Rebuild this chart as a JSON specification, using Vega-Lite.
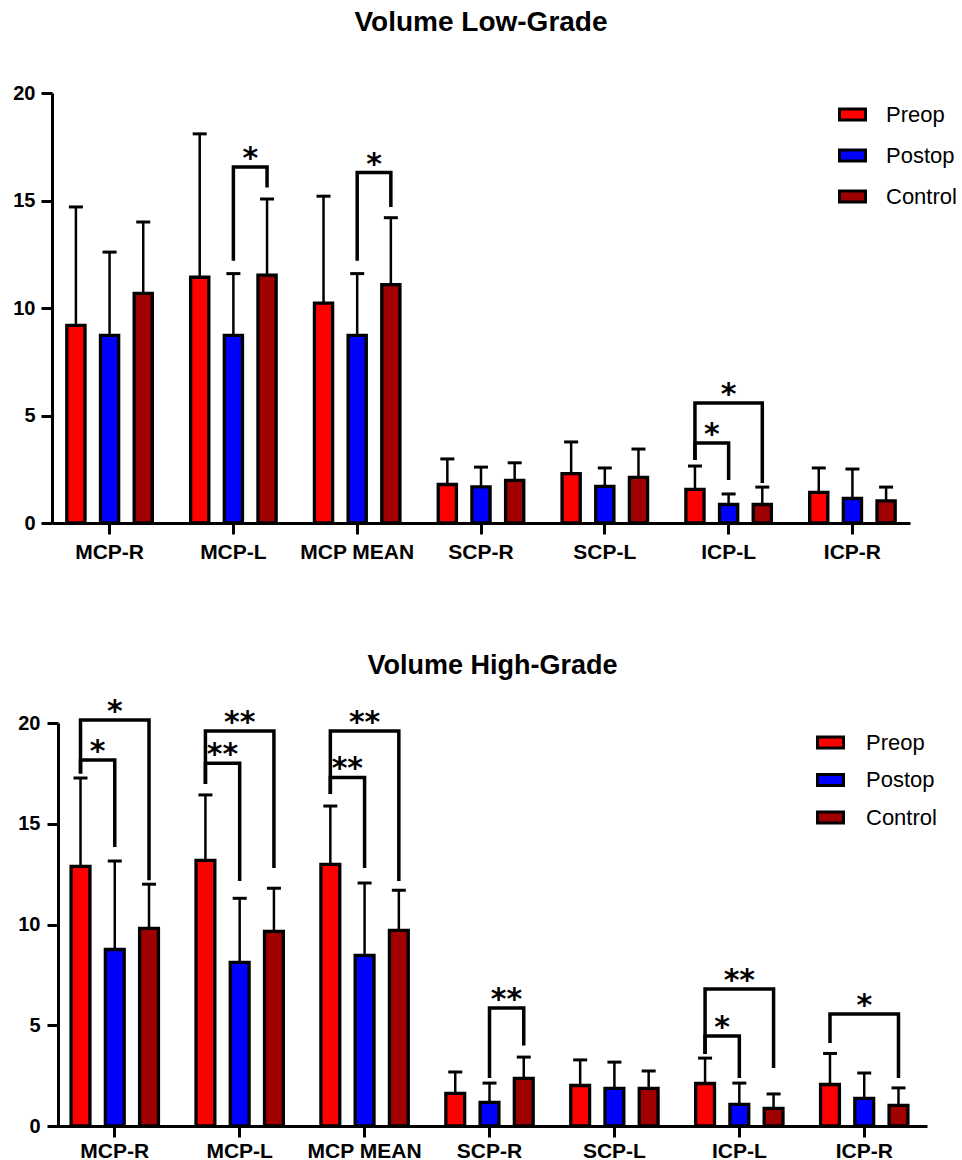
{
  "$schema": "https://vega.github.io/schema/vega-lite/v6.json",
  "padding": {"left": 5, "top": 9, "right": 0, "bottom": 0},
  "spacing": 89,
  "config": {
    "view": {"stroke": null},
    "axis": {"domainColor": "black", "tickColor": "black", "labelColor": "black", "labelFont": "Liberation Sans", "labelFontWeight": "bold", "grid": false, "domainWidth": 3, "tickWidth": 3, "tickSize": 11}
  },
  "datasets": {
    "lowBars": [
      {"region": "MCP-R", "group": "Preop", "mean": 9.19, "upper": 14.7},
      {"region": "MCP-R", "group": "Postop", "mean": 8.73, "upper": 12.6},
      {"region": "MCP-R", "group": "Control", "mean": 10.68, "upper": 14.0},
      {"region": "MCP-L", "group": "Preop", "mean": 11.43, "upper": 18.1},
      {"region": "MCP-L", "group": "Postop", "mean": 8.73, "upper": 11.6},
      {"region": "MCP-L", "group": "Control", "mean": 11.53, "upper": 15.07},
      {"region": "MCP MEAN", "group": "Preop", "mean": 10.23, "upper": 15.2},
      {"region": "MCP MEAN", "group": "Postop", "mean": 8.73, "upper": 11.6},
      {"region": "MCP MEAN", "group": "Control", "mean": 11.09, "upper": 14.2},
      {"region": "SCP-R", "group": "Preop", "mean": 1.79, "upper": 2.98},
      {"region": "SCP-R", "group": "Postop", "mean": 1.68, "upper": 2.6},
      {"region": "SCP-R", "group": "Control", "mean": 1.98, "upper": 2.8},
      {"region": "SCP-L", "group": "Preop", "mean": 2.3, "upper": 3.77},
      {"region": "SCP-L", "group": "Postop", "mean": 1.7, "upper": 2.56},
      {"region": "SCP-L", "group": "Control", "mean": 2.12, "upper": 3.44},
      {"region": "ICP-L", "group": "Preop", "mean": 1.56, "upper": 2.65},
      {"region": "ICP-L", "group": "Postop", "mean": 0.86, "upper": 1.35},
      {"region": "ICP-L", "group": "Control", "mean": 0.86, "upper": 1.67},
      {"region": "ICP-R", "group": "Preop", "mean": 1.42, "upper": 2.56},
      {"region": "ICP-R", "group": "Postop", "mean": 1.14, "upper": 2.51},
      {"region": "ICP-R", "group": "Control", "mean": 1.03, "upper": 1.67}
    ],
    "lowBrackets": [
      {"bid": "a", "region": "MCP-L", "group": "Postop", "y": 12.2, "seq": 0},
      {"bid": "a", "region": "MCP-L", "group": "Postop", "y": 16.56, "seq": 1},
      {"bid": "a", "region": "MCP-L", "group": "Control", "y": 16.56, "seq": 2},
      {"bid": "a", "region": "MCP-L", "group": "Control", "y": 15.6, "seq": 3},
      {"bid": "b", "region": "MCP MEAN", "group": "Postop", "y": 12.2, "seq": 0},
      {"bid": "b", "region": "MCP MEAN", "group": "Postop", "y": 16.3, "seq": 1},
      {"bid": "b", "region": "MCP MEAN", "group": "Control", "y": 16.3, "seq": 2},
      {"bid": "b", "region": "MCP MEAN", "group": "Control", "y": 14.7, "seq": 3},
      {"bid": "c", "region": "ICP-L", "group": "Preop", "y": 2.93, "seq": 0},
      {"bid": "c", "region": "ICP-L", "group": "Preop", "y": 5.58, "seq": 1},
      {"bid": "c", "region": "ICP-L", "group": "Control", "y": 5.58, "seq": 2},
      {"bid": "c", "region": "ICP-L", "group": "Control", "y": 1.86, "seq": 3},
      {"bid": "d", "region": "ICP-L", "group": "Preop", "y": 2.93, "seq": 0},
      {"bid": "d", "region": "ICP-L", "group": "Preop", "y": 3.72, "seq": 1},
      {"bid": "d", "region": "ICP-L", "group": "Postop", "y": 3.72, "seq": 2},
      {"bid": "d", "region": "ICP-L", "group": "Postop", "y": 2.0, "seq": 3}
    ],
    "lowStars": [
      {"region": "MCP-L", "group": "Postop", "span": "adj", "label": "*", "y": 16.56},
      {"region": "MCP MEAN", "group": "Postop", "span": "adj", "label": "*", "y": 16.3},
      {"region": "ICP-L", "group": "Postop", "span": "wide", "label": "*", "y": 5.58},
      {"region": "ICP-L", "group": "Preop", "span": "adj", "label": "*", "y": 3.72}
    ],
    "highBars": [
      {"region": "MCP-R", "group": "Preop", "mean": 12.88, "upper": 17.27},
      {"region": "MCP-R", "group": "Postop", "mean": 8.76, "upper": 13.15},
      {"region": "MCP-R", "group": "Control", "mean": 9.81, "upper": 12.0},
      {"region": "MCP-L", "group": "Preop", "mean": 13.18, "upper": 16.43},
      {"region": "MCP-L", "group": "Postop", "mean": 8.12, "upper": 11.3},
      {"region": "MCP-L", "group": "Control", "mean": 9.66, "upper": 11.8},
      {"region": "MCP MEAN", "group": "Preop", "mean": 12.98, "upper": 15.88},
      {"region": "MCP MEAN", "group": "Postop", "mean": 8.47, "upper": 12.06},
      {"region": "MCP MEAN", "group": "Control", "mean": 9.71, "upper": 11.7},
      {"region": "SCP-R", "group": "Preop", "mean": 1.62, "upper": 2.68},
      {"region": "SCP-R", "group": "Postop", "mean": 1.17, "upper": 2.13},
      {"region": "SCP-R", "group": "Control", "mean": 2.36, "upper": 3.42},
      {"region": "SCP-L", "group": "Preop", "mean": 2.01, "upper": 3.28},
      {"region": "SCP-L", "group": "Postop", "mean": 1.87, "upper": 3.17},
      {"region": "SCP-L", "group": "Control", "mean": 1.87, "upper": 2.73},
      {"region": "ICP-L", "group": "Preop", "mean": 2.11, "upper": 3.37},
      {"region": "ICP-L", "group": "Postop", "mean": 1.07, "upper": 2.13},
      {"region": "ICP-L", "group": "Control", "mean": 0.87, "upper": 1.59},
      {"region": "ICP-R", "group": "Preop", "mean": 2.06, "upper": 3.6},
      {"region": "ICP-R", "group": "Postop", "mean": 1.37, "upper": 2.63},
      {"region": "ICP-R", "group": "Control", "mean": 1.02, "upper": 1.89}
    ],
    "highBrackets": [
      {"bid": "a", "region": "MCP-R", "group": "Preop", "y": 17.5, "seq": 0},
      {"bid": "a", "region": "MCP-R", "group": "Preop", "y": 20.15, "seq": 1},
      {"bid": "a", "region": "MCP-R", "group": "Control", "y": 20.15, "seq": 2},
      {"bid": "a", "region": "MCP-R", "group": "Control", "y": 12.2, "seq": 3},
      {"bid": "b", "region": "MCP-R", "group": "Preop", "y": 17.5, "seq": 0},
      {"bid": "b", "region": "MCP-R", "group": "Preop", "y": 18.16, "seq": 1},
      {"bid": "b", "region": "MCP-R", "group": "Postop", "y": 18.16, "seq": 2},
      {"bid": "b", "region": "MCP-R", "group": "Postop", "y": 13.85, "seq": 3},
      {"bid": "c", "region": "MCP-L", "group": "Preop", "y": 16.97, "seq": 0},
      {"bid": "c", "region": "MCP-L", "group": "Preop", "y": 19.6, "seq": 1},
      {"bid": "c", "region": "MCP-L", "group": "Control", "y": 19.6, "seq": 2},
      {"bid": "c", "region": "MCP-L", "group": "Control", "y": 12.8, "seq": 3},
      {"bid": "d", "region": "MCP-L", "group": "Preop", "y": 16.97, "seq": 0},
      {"bid": "d", "region": "MCP-L", "group": "Preop", "y": 18.0, "seq": 1},
      {"bid": "d", "region": "MCP-L", "group": "Postop", "y": 18.0, "seq": 2},
      {"bid": "d", "region": "MCP-L", "group": "Postop", "y": 12.16, "seq": 3},
      {"bid": "e", "region": "MCP MEAN", "group": "Preop", "y": 16.48, "seq": 0},
      {"bid": "e", "region": "MCP MEAN", "group": "Preop", "y": 19.6, "seq": 1},
      {"bid": "e", "region": "MCP MEAN", "group": "Control", "y": 19.6, "seq": 2},
      {"bid": "e", "region": "MCP MEAN", "group": "Control", "y": 12.16, "seq": 3},
      {"bid": "f", "region": "MCP MEAN", "group": "Preop", "y": 16.48, "seq": 0},
      {"bid": "f", "region": "MCP MEAN", "group": "Preop", "y": 17.3, "seq": 1},
      {"bid": "f", "region": "MCP MEAN", "group": "Postop", "y": 17.3, "seq": 2},
      {"bid": "f", "region": "MCP MEAN", "group": "Postop", "y": 12.8, "seq": 3},
      {"bid": "g", "region": "SCP-R", "group": "Postop", "y": 2.38, "seq": 0},
      {"bid": "g", "region": "SCP-R", "group": "Postop", "y": 5.86, "seq": 1},
      {"bid": "g", "region": "SCP-R", "group": "Control", "y": 5.86, "seq": 2},
      {"bid": "g", "region": "SCP-R", "group": "Control", "y": 4.0, "seq": 3},
      {"bid": "h", "region": "ICP-L", "group": "Preop", "y": 3.57, "seq": 0},
      {"bid": "h", "region": "ICP-L", "group": "Preop", "y": 6.8, "seq": 1},
      {"bid": "h", "region": "ICP-L", "group": "Control", "y": 6.8, "seq": 2},
      {"bid": "h", "region": "ICP-L", "group": "Control", "y": 2.88, "seq": 3},
      {"bid": "i", "region": "ICP-L", "group": "Preop", "y": 3.57, "seq": 0},
      {"bid": "i", "region": "ICP-L", "group": "Preop", "y": 4.47, "seq": 1},
      {"bid": "i", "region": "ICP-L", "group": "Postop", "y": 4.47, "seq": 2},
      {"bid": "i", "region": "ICP-L", "group": "Postop", "y": 2.38, "seq": 3},
      {"bid": "j", "region": "ICP-R", "group": "Preop", "y": 4.12, "seq": 0},
      {"bid": "j", "region": "ICP-R", "group": "Preop", "y": 5.56, "seq": 1},
      {"bid": "j", "region": "ICP-R", "group": "Control", "y": 5.56, "seq": 2},
      {"bid": "j", "region": "ICP-R", "group": "Control", "y": 2.38, "seq": 3}
    ],
    "highStars": [
      {"region": "MCP-R", "group": "Postop", "span": "wide", "label": "*", "y": 20.15},
      {"region": "MCP-R", "group": "Preop", "span": "adj", "label": "*", "y": 18.16},
      {"region": "MCP-L", "group": "Postop", "span": "wide", "label": "**", "y": 19.6},
      {"region": "MCP-L", "group": "Preop", "span": "adj", "label": "**", "y": 18.0},
      {"region": "MCP MEAN", "group": "Postop", "span": "wide", "label": "**", "y": 19.6},
      {"region": "MCP MEAN", "group": "Preop", "span": "adj", "label": "**", "y": 17.3},
      {"region": "SCP-R", "group": "Postop", "span": "adj", "label": "**", "y": 5.86},
      {"region": "ICP-L", "group": "Postop", "span": "wide", "label": "**", "y": 6.8},
      {"region": "ICP-L", "group": "Preop", "span": "adj", "label": "*", "y": 4.47},
      {"region": "ICP-R", "group": "Postop", "span": "wide", "label": "*", "y": 5.56}
    ]
  },
  "resolve": {
    "scale": {"x": "independent", "y": "independent", "xOffset": "independent", "color": "independent"},
    "legend": {"color": "independent"}
  },
  "vconcat": [
    {
      "title": {"text": "Volume Low-Grade", "font": "Liberation Sans", "fontSize": 28, "fontWeight": "bold", "color": "black", "anchor": "middle", "frame": "group", "baseline": "alphabetic", "offset": 24},
      "width": 858,
      "height": 430,
      "layer": [
        {
          "data": {"name": "lowBars"},
          "mark": {"type": "bar", "stroke": "black", "strokeWidth": 3.3},
          "encoding": {
            "x": {"field": "region", "type": "nominal", "title": null,
              "scale": {"domain": ["MCP-R", "MCP-L", "MCP MEAN", "SCP-R", "SCP-L", "ICP-L", "ICP-R"], "paddingInner": 0.07, "paddingOuter": 0},
              "axis": {"labelAngle": 0, "labelFontSize": 21, "labelPadding": 7}},
            "xOffset": {"field": "group", "type": "nominal", "scale": {"domain": ["Preop", "Postop", "Control"], "paddingInner": 0.46, "paddingOuter": 0.44}},
            "y": {"field": "mean", "type": "quantitative", "title": null,
              "scale": {"domain": [0, 20], "nice": false},
              "axis": {"values": [0, 5, 10, 15, 20], "labelFontSize": 20, "labelPadding": 6, "minExtent": 47}},
            "color": {"field": "group", "type": "nominal",
              "scale": {"domain": ["Preop", "Postop", "Control"], "range": ["#ff0000", "#0000ff", "#a00000"]},
              "legend": {"title": null, "orient": "none", "legendX": 789, "legendY": 10, "padding": 0,
                "symbolType": "M-1.3,-0.55H1.3V0.55H-1.3Z", "symbolSize": 400, "symbolStrokeColor": "black", "symbolStrokeWidth": 3, "symbolOpacity": 1,
                "labelFont": "Liberation Sans", "labelFontSize": 22, "labelColor": "black", "labelOffset": 22, "rowPadding": 18}}
          }
        },
        {
          "data": {"name": "lowBars"},
          "mark": {"type": "rule", "color": "black", "strokeWidth": 2.5},
          "encoding": {
            "x": {"field": "region", "type": "nominal"},
            "xOffset": {"field": "group", "type": "nominal"},
            "y": {"field": "mean", "type": "quantitative"},
            "y2": {"field": "upper"}
          }
        },
        {
          "data": {"name": "lowBars"},
          "mark": {"type": "tick", "color": "black", "size": 14, "thickness": 3, "opacity": 1},
          "encoding": {
            "x": {"field": "region", "type": "nominal"},
            "xOffset": {"field": "group", "type": "nominal"},
            "y": {"field": "upper", "type": "quantitative"}
          }
        },
        {
          "data": {"name": "lowBrackets"},
          "mark": {"type": "line", "color": "black", "strokeWidth": 3.5, "strokeJoin": "miter", "strokeCap": "butt"},
          "encoding": {
            "x": {"field": "region", "type": "nominal"},
            "xOffset": {"field": "group", "type": "nominal"},
            "y": {"field": "y", "type": "quantitative"},
            "detail": {"field": "bid"},
            "order": {"field": "seq", "type": "quantitative"}
          }
        },
        {
          "data": {"name": "lowStars"},
          "transform": [{"filter": "datum.span === 'wide'"}],
          "mark": {"type": "text", "font": "DejaVu Sans", "fontWeight": "bold", "fontSize": 30, "baseline": "alphabetic", "align": "center", "dy": 1, "color": "black"},
          "encoding": {
            "x": {"field": "region", "type": "nominal"},
            "y": {"field": "y", "type": "quantitative"},
            "text": {"field": "label"}
          }
        },
        {
          "data": {"name": "lowStars"},
          "transform": [{"filter": "datum.span === 'adj'"}],
          "mark": {"type": "text", "font": "DejaVu Sans", "fontWeight": "bold", "fontSize": 30, "baseline": "alphabetic", "align": "center", "dy": 1, "dx": 17, "color": "black"},
          "encoding": {
            "x": {"field": "region", "type": "nominal"},
            "xOffset": {"field": "group", "type": "nominal"},
            "y": {"field": "y", "type": "quantitative"},
            "text": {"field": "label"}
          }
        }
      ]
    },
    {
      "title": {"text": "Volume High-Grade", "font": "Liberation Sans", "fontSize": 27, "fontWeight": "bold", "color": "black", "anchor": "middle", "frame": "group", "baseline": "alphabetic", "offset": -4, "dx": 3},
      "width": 875,
      "height": 403,
      "layer": [
        {
          "data": {"name": "highBars"},
          "mark": {"type": "bar", "stroke": "black", "strokeWidth": 3.3},
          "encoding": {
            "x": {"field": "region", "type": "nominal", "title": null,
              "scale": {"domain": ["MCP-R", "MCP-L", "MCP MEAN", "SCP-R", "SCP-L", "ICP-L", "ICP-R"], "paddingInner": 0.065, "paddingOuter": 0.035},
              "axis": {"labelAngle": 0, "labelFontSize": 21, "labelPadding": 3}},
            "xOffset": {"field": "group", "type": "nominal", "scale": {"domain": ["Preop", "Postop", "Control"], "paddingInner": 0.45, "paddingOuter": 0.43}},
            "y": {"field": "mean", "type": "quantitative", "title": null,
              "scale": {"domain": [0, 20], "nice": false},
              "axis": {"values": [0, 5, 10, 15, 20], "labelFontSize": 20, "labelPadding": 7, "offset": -6, "minExtent": 47}},
            "color": {"field": "group", "type": "nominal",
              "scale": {"domain": ["Preop", "Postop", "Control"], "range": ["#ff0000", "#0000ff", "#a00000"]},
              "legend": {"title": null, "orient": "none", "legendX": 767, "legendY": 8, "padding": 0,
                "symbolType": "M-1.3,-0.55H1.3V0.55H-1.3Z", "symbolSize": 400, "symbolStrokeColor": "black", "symbolStrokeWidth": 3, "symbolOpacity": 1,
                "labelFont": "Liberation Sans", "labelFontSize": 22, "labelColor": "black", "labelOffset": 24, "rowPadding": 14.5}}
          }
        },
        {
          "data": {"name": "highBars"},
          "mark": {"type": "rule", "color": "black", "strokeWidth": 2.5},
          "encoding": {
            "x": {"field": "region", "type": "nominal"},
            "xOffset": {"field": "group", "type": "nominal"},
            "y": {"field": "mean", "type": "quantitative"},
            "y2": {"field": "upper"}
          }
        },
        {
          "data": {"name": "highBars"},
          "mark": {"type": "tick", "color": "black", "size": 14, "thickness": 3, "opacity": 1},
          "encoding": {
            "x": {"field": "region", "type": "nominal"},
            "xOffset": {"field": "group", "type": "nominal"},
            "y": {"field": "upper", "type": "quantitative"}
          }
        },
        {
          "data": {"name": "highBrackets"},
          "mark": {"type": "line", "color": "black", "strokeWidth": 3.5, "strokeJoin": "miter", "strokeCap": "butt"},
          "encoding": {
            "x": {"field": "region", "type": "nominal"},
            "xOffset": {"field": "group", "type": "nominal"},
            "y": {"field": "y", "type": "quantitative"},
            "detail": {"field": "bid"},
            "order": {"field": "seq", "type": "quantitative"}
          }
        },
        {
          "data": {"name": "highStars"},
          "transform": [{"filter": "datum.span === 'wide'"}],
          "mark": {"type": "text", "font": "DejaVu Sans", "fontWeight": "bold", "fontSize": 30, "baseline": "alphabetic", "align": "center", "dy": 1, "color": "black"},
          "encoding": {
            "x": {"field": "region", "type": "nominal"},
            "y": {"field": "y", "type": "quantitative"},
            "text": {"field": "label"}
          }
        },
        {
          "data": {"name": "highStars"},
          "transform": [{"filter": "datum.span === 'adj'"}],
          "mark": {"type": "text", "font": "DejaVu Sans", "fontWeight": "bold", "fontSize": 30, "baseline": "alphabetic", "align": "center", "dy": 1, "dx": 17, "color": "black"},
          "encoding": {
            "x": {"field": "region", "type": "nominal"},
            "xOffset": {"field": "group", "type": "nominal"},
            "y": {"field": "y", "type": "quantitative"},
            "text": {"field": "label"}
          }
        }
      ]
    }
  ]
}
